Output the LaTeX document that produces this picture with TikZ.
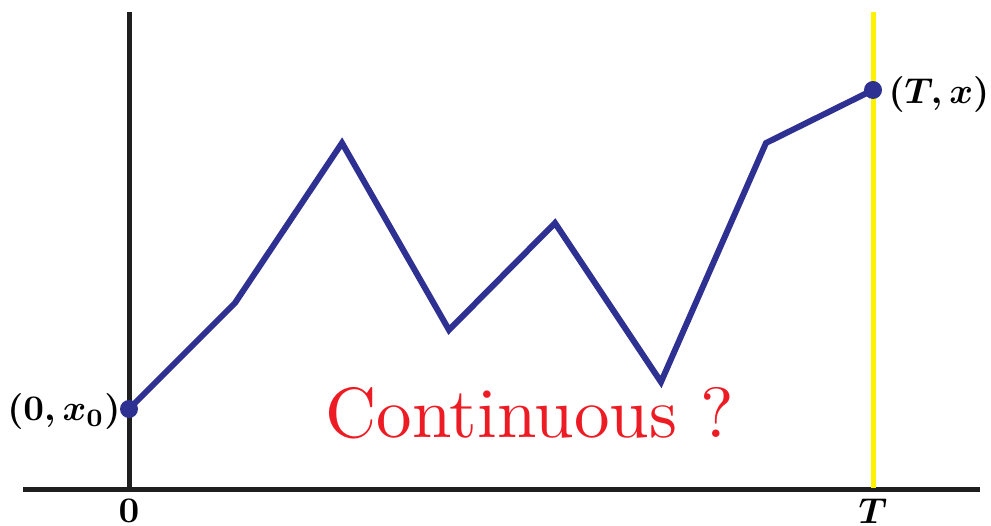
\documentclass[tikz,border=0pt]{standalone}
\usepackage{amsmath,amssymb}
\usepackage{tikz}
\usetikzlibrary{positioning}

\definecolor{pathblue}{RGB}{46,49,146}
\definecolor{qred}{RGB}{237,28,36}
\definecolor{tyellow}{RGB}{255,242,0}

\begin{document}
\begin{tikzpicture}[
  x=1pt, y=1pt,
  axis/.style={line width=5pt, black!88},
  walk/.style={line width=6pt, pathblue, line join=miter},
  dot/.style={circle, fill=pathblue, inner sep=0pt, minimum size=18pt},
  lab/.style={font=\normalsize\boldmath, scale=3.6, transform shape, inner sep=0.5pt}
]
\useasboundingbox (0,0) rectangle (991,526);

% Axes
\coordinate (ytop) at (129,514);
\coordinate (ybot) at (129,36);
\coordinate (xleft) at (23,36);
\coordinate (xright) at (980,36);
\draw[axis] (ybot) -- (ytop);
\draw[axis] (xleft) -- (xright);

% Final time line
\coordinate (ttop) at (873,514);
\coordinate (tbot) at (873,38);
\draw[line width=5pt, tyellow] (tbot) -- (ttop);

% Sample path
\coordinate (p0) at (129,117);
\coordinate (p1) at (235,223);
\coordinate (p2) at (342,383);
\coordinate (p3) at (449,196);
\coordinate (p4) at (555,303);
\coordinate (p5) at (661,144);
\coordinate (p6) at (766,383);
\coordinate (p7) at (873,436);
\draw[walk] (p0) -- (p1) -- (p2) -- (p3) -- (p4) -- (p5) -- (p6) -- (p7);

% End points
\node[dot] (start) at (p0) {};
\node[dot] (end) at (p7) {};
\node[lab, anchor=east] (startlab) at (123,114) {$(0,x_0)$};
\node[lab, anchor=west] (endlab) at (886,431) {$(T,x)$};

% Tick labels
\node[lab] (zero) at (129,15) {$0$};
\node[lab] (tee) at (873,15) {$T$};

% Question
\node[font=\normalsize, scale=7.1, transform shape, text=qred, draw=none] (quest) at (530,113) {Continuous ?};

\end{tikzpicture}
\end{document}
